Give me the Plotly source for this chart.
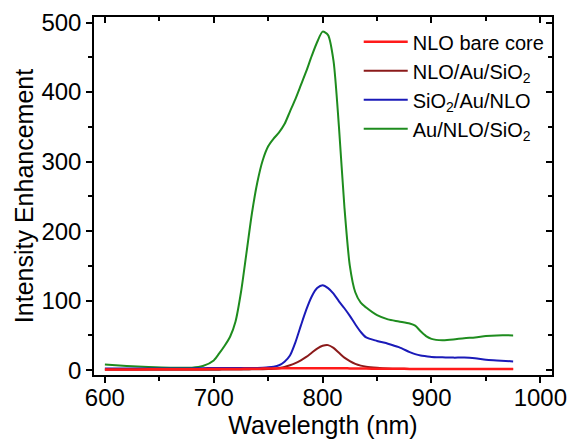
import plotly.graph_objects as go

wavelength = [600, 620, 640, 660, 680, 690, 700, 705, 710, 715, 720, 725, 730, 735, 740, 745,
              750, 755, 760, 765, 770, 775, 780, 785, 790, 795, 800, 805, 810, 815, 820, 825,
              830, 835, 840, 850, 860, 870, 880, 885, 890, 895, 900, 910, 920, 930, 940, 950,
              960, 975]

nlo_bare_core = [1.0, 1.0, 1.1, 1.2, 1.3, 1.4, 1.5, 1.5, 1.6, 1.6, 1.7, 1.8, 1.9, 2.0, 2.1, 2.2,
                 2.3, 2.4, 2.5, 2.6, 2.6, 2.7, 2.7, 2.8, 2.8, 2.8, 2.8, 2.8, 2.7, 2.7, 2.6, 2.5,
                 2.4, 2.3, 2.2, 2.1, 2.0, 1.9, 1.8, 1.8, 1.7, 1.7, 1.7, 1.6, 1.6, 1.5, 1.5, 1.5,
                 1.5, 1.5]

nlo_au_sio2 = [0.5, 0.5, 0.5, 0.5, 0.6, 0.6, 0.7, 0.7, 0.8, 0.8, 0.9, 0.9, 1.0, 1.1, 1.2, 1.3,
               1.5, 2.0, 3.0, 4.5, 7.0, 10.0, 14.0, 19.0, 25.0, 31.0, 35.0, 36.0, 32.0, 25.0, 18.0, 13.0,
               9.0, 6.5, 5.0, 3.5, 2.5, 2.0, 1.8, 1.7, 1.6, 1.6, 1.5, 1.5, 1.5, 1.5, 1.5, 1.5,
               1.5, 1.5]

sio2_au_nlo = [2.5, 2.5, 2.5, 2.5, 2.5, 2.8, 3.0, 3.0, 3.0, 3.0, 3.0, 3.0, 3.0, 3.1, 3.2, 3.5,
               4.0, 5.0, 7.0, 12.0, 21.0, 40.0, 64.0, 87.0, 106.0, 118.0, 122.0, 118.0, 110.0, 99.0, 89.0, 78.0,
               66.0, 55.0, 47.0, 42.0, 38.0, 33.0, 26.0, 23.0, 21.0, 20.0, 19.0, 18.5, 18.0, 18.0, 17.0, 15.0,
               14.0, 12.5]

au_nlo_sio2 = [8.0, 6.0, 4.5, 3.5, 3.5, 6.0, 14.0, 24.0, 35.0, 48.0, 70.0, 112.0, 168.0, 225.0, 270.0, 302.0,
               322.0, 333.0, 342.0, 354.0, 372.0, 390.0, 410.0, 430.0, 452.0, 472.0, 487.0, 482.0, 445.0, 350.0, 235.0, 150.0,
               112.0, 97.0, 90.0, 79.0, 73.0, 70.0, 67.0, 64.0, 56.0, 49.0, 45.0, 43.0, 44.0, 46.0, 47.0, 49.0,
               50.0, 50.0]

series_names = ["NLO bare core", "NLO/Au/SiO<sub>2</sub>", "SiO<sub>2</sub>/Au/NLO", "Au/NLO/SiO<sub>2</sub>"]
series_colors = ["#FF1A1A", "#8B1A1A", "#1A1AB8", "#1E8C1E"]
series_widths = [2.5, 2, 2, 2]
series_values = [nlo_bare_core, nlo_au_sio2, sio2_au_nlo, au_nlo_sio2]

x_ticks = [600, 700, 800, 900, 1000]
y_ticks = [0, 100, 200, 300, 400, 500]
x_range = [590, 1010.7]
y_range = [-7, 508]

FONT = "Liberation Sans, Arial, sans-serif"

fig = go.Figure()
# draw green first so that the red baseline sits on top, legend order kept via legendrank
for idx in [3, 2, 1, 0]:
    fig.add_trace(go.Scatter(
        x=wavelength, y=series_values[idx], mode="lines", name=series_names[idx],
        line=dict(color=series_colors[idx], width=series_widths[idx], shape="spline", smoothing=0.7),
        legendrank=idx + 1,
    ))

# invisible helper trace for mirrored (inside-tick) top/right axes
fig.add_trace(go.Scatter(x=wavelength, y=au_nlo_sio2, xaxis="x2", yaxis="y2", mode="lines",
                         line=dict(width=0), opacity=0, showlegend=False, hoverinfo="skip"))

axis_common = dict(showline=True, linecolor="black", linewidth=1.5, showgrid=False, zeroline=False,
                   tickcolor="black", tickwidth=1.5, ticklen=6)

fig.update_layout(
    width=576, height=446,
    margin=dict(l=94, r=20, t=9, b=71),
    paper_bgcolor="white", plot_bgcolor="white",
    font=dict(family=FONT, color="black"),
    showlegend=True,
    legend=dict(x=0.578, y=0.985, xanchor="left", yanchor="top", bgcolor="rgba(0,0,0,0)",
                font=dict(size=20, family=FONT), itemwidth=44, tracegroupgap=0),
    xaxis=dict(range=x_range, tickvals=x_ticks, ticks="outside", ticklabelstandoff=-6,
               minor=dict(dtick=50, tick0=600, ticks="outside", ticklen=4, tickcolor="black", tickwidth=1.5),
               tickfont=dict(size=24), title=dict(text="Wavelength (nm)", font=dict(size=25), standoff=2),
               **axis_common),
    yaxis=dict(range=y_range, tickvals=y_ticks, ticks="outside",
               minor=dict(dtick=50, tick0=0, ticks="outside", ticklen=4, tickcolor="black", tickwidth=1.5),
               tickfont=dict(size=24), title=dict(text="Intensity Enhancement", font=dict(size=25), standoff=1),
               **axis_common),
    xaxis2=dict(range=x_range, overlaying="x", side="top", tickvals=x_ticks, ticks="inside",
                showticklabels=False,
                minor=dict(dtick=50, tick0=600, ticks="inside", ticklen=4, tickcolor="black", tickwidth=1.5),
                **axis_common),
    yaxis2=dict(range=y_range, overlaying="y", side="right", tickvals=y_ticks, ticks="inside",
                showticklabels=False,
                minor=dict(dtick=50, tick0=0, ticks="inside", ticklen=4, tickcolor="black", tickwidth=1.5),
                **axis_common),
)

fig.write_html("out.html")
